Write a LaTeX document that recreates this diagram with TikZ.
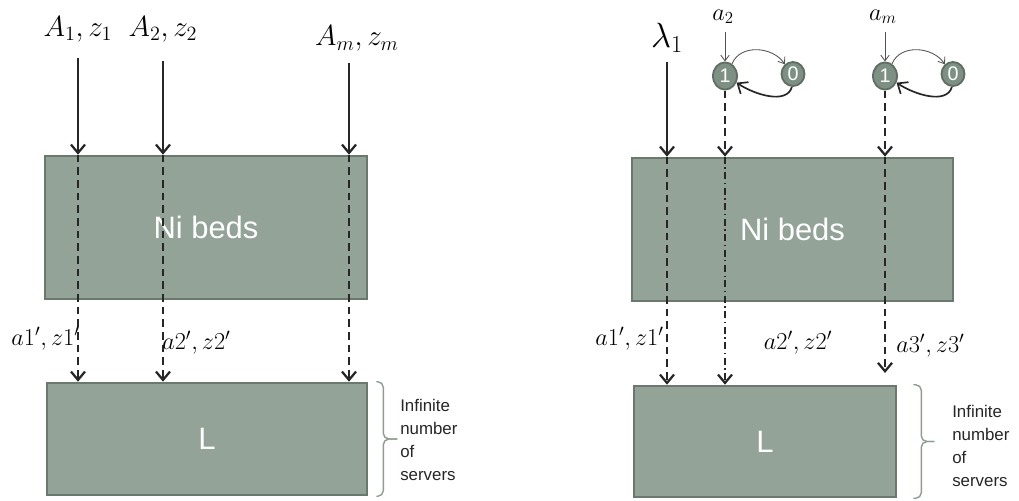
\documentclass[tikz,border=0pt]{standalone}
\usepackage[no-math]{fontspec}
\newfontfamily\arialfont{Liberation Sans}
\usepackage{amsmath}
\usetikzlibrary{arrows.meta, shapes.geometric, calc}
\definecolor{bedfill}{HTML}{93A398}
\definecolor{beddraw}{HTML}{6B786E}
\definecolor{statefill}{HTML}{7E9083}
\definecolor{statedraw}{HTML}{5F6E63}
\definecolor{bracegray}{HTML}{8E9C92}
\definecolor{arrgray}{HTML}{262626}

\begin{document}
\begin{tikzpicture}[x=0.025cm, y=-0.025cm,
    box/.style={rectangle, draw=beddraw, fill=bedfill, line width=1.8pt,
                text=white, font=\arialfont\fontsize{22}{26}\selectfont},
    state/.style={ellipse, draw=statedraw, fill=statefill, line width=1.3pt,
                  inner sep=0pt, minimum width=0.6cm, minimum height=0.68cm,
                  text=white, font=\arialfont\fontsize{14}{16}\selectfont},
    arr/.style={-{Straight Barb[length=6pt, width=10pt]}, line width=1.6pt, draw=arrgray},
    dasharr/.style={arr, dash pattern=on 5.5pt off 3.5pt},
    dotarr/.style={arr, dash pattern=on 5pt off 2.5pt on 1pt off 2.5pt},
    thinarr/.style={-{Straight Barb[length=4pt, width=6pt]}, line width=0.6pt, draw=arrgray!80},
    lbl/.style={inner sep=0pt, font=\fontsize{17}{20}\selectfont},
    inlbl/.style={lbl, anchor=base, font=\fontsize{20}{24}\selectfont},
    srv/.style={align=left, inner sep=0pt, text=black!85,
                font=\arialfont\fontsize{12}{16.4}\selectfont},
    bracket/.style={draw=bracegray, line width=1pt, rounded corners=4pt},
  ]
  \useasboundingbox (0,0) rectangle (1019,500);

  % left: fixed inputs
  \node[box, minimum width=8.05cm, minimum height=3.575cm] (ni) at (206,227.5) {Ni beds};
  \node[box, minimum width=8cm, minimum height=2.8cm] (l) at (207,439) {L};

  \node[inlbl] (in1) at (78,36) {$A_1,z_1$};
  \node[inlbl] (in2) at (163,36) {$A_2,z_2$};
  \node[inlbl] (inm) at (357,46) {$A_m,z_m$};
  \coordinate (s1) at (78,58);
  \coordinate (s2) at (163,61);
  \coordinate (sm) at (349,63);

  \draw[arr] (s1) -- (s1 |- ni.north);
  \draw[arr] (s2) -- (s2 |- ni.north);
  \draw[arr] (sm) -- (sm |- ni.north);
  \draw[dasharr] (s1 |- ni.north) -- (s1 |- l.north);
  \draw[dasharr] (s2 |- ni.north) -- (s2 |- l.north);
  \draw[dasharr] (sm |- ni.north) -- (sm |- l.north);

  \node[lbl, anchor=east] (o1) at (80,339) {$a1',z1'$};
  \node[lbl, anchor=west] (o2) at (162,343) {$a2',z2'$};

  \coordinate (bt) at ([xshift=0.2cm]l.north east);
  \coordinate (bb) at ([xshift=0.2cm]l.south east);
  \coordinate (bm) at ($(bt)!0.5!(bb)$);
  \draw[bracket] (bt) -- ++(7,0) -- ($(bm)+(7,0)$) -- ($(bm)+(21,0)$);
  \draw[bracket] (bb) -- ++(7,0) -- ($(bm)+(7,0)$) -- ($(bm)+(21,0)$);
  \node[srv, anchor=west] (inf) at (400,440) {Infinite\\number\\of\\servers};

  % right: on/off sources
  \node[box, minimum width=8.025cm, minimum height=3.575cm] (niR) at (792.5,229.5) {Ni beds};
  \node[box, minimum width=6.55cm, minimum height=2.775cm] (lR) at (765,441.5) {L};

  \node[lbl, font=\fontsize{23}{26}\selectfont, anchor=base] (lam) at (667,47) {$\lambda_1$};
  \coordinate (sl) at (667,62);
  \draw[arr] (sl) -- (sl |- niR.north);
  \draw[dasharr] (sl |- niR.north) -- (sl |- lR.north);

  \node[state] (p1) at (725,76) {1};
  \node[state, minimum width=0.575cm, minimum height=0.6cm] (p0) at (793,74) {0};
  \node[lbl, font=\fontsize{18}{20}\selectfont, anchor=base] (a2) at (723,20) {$a_2$};
  \coordinate (t2) at (725,32);
  \draw[thinarr] (t2) -- (p1);
  \draw[thinarr] (p1.60) .. controls +(8,-20) and +(-12,-18) .. (p0.130);
  \draw[arr, line width=1.2pt] (p0.-95) .. controls +(-5,18) and +(18,12) .. (p1.-30);
  \draw[dasharr] (p1.south) -- (p1 |- niR.north);
  \draw[dotarr] (p1 |- niR.north) -- (p1 |- lR.north);

  \node[state] (q1) at (885,76) {1};
  \node[state, minimum width=0.575cm, minimum height=0.6cm] (q0) at (953,74) {0};
  \node[lbl, font=\fontsize{18}{20}\selectfont, anchor=base] (am) at (883,20) {$a_m$};
  \coordinate (tm) at (885,32);
  \draw[thinarr] (tm) -- (q1);
  \draw[thinarr] (q1.60) .. controls +(8,-20) and +(-12,-18) .. (q0.130);
  \draw[arr, line width=1.2pt] (q0.-95) .. controls +(-5,18) and +(18,12) .. (q1.-30);
  \coordinate (e3) at (885,373);
  \draw[dasharr] (q1.south) -- (q1 |- niR.north);
  \draw[dasharr] (q1 |- niR.north) -- (e3);

  \node[lbl, anchor=east] (r1) at (664,339) {$a1',z1'$};
  \node[lbl] (r2) at (798,343) {$a2',z2'$};
  \node[lbl, anchor=west] (r3) at (896,346) {$a3',z3'$};

  \coordinate (ct) at ([xshift=0.4cm]lR.north east);
  \coordinate (cb) at ([xshift=0.4cm]lR.south east);
  \coordinate (cm) at ($(ct)!0.5!(cb)$);
  \draw[bracket] (ct) -- ++(8,0) -- ($(cm)+(8,0)$) -- ($(cm)+(21,0)$);
  \draw[bracket] (cb) -- ++(8,0) -- ($(cm)+(8,0)$) -- ($(cm)+(21,0)$);
  \node[srv, anchor=west] (infR) at (952,446) {Infinite\\number\\of\\servers};
\end{tikzpicture}
\end{document}
